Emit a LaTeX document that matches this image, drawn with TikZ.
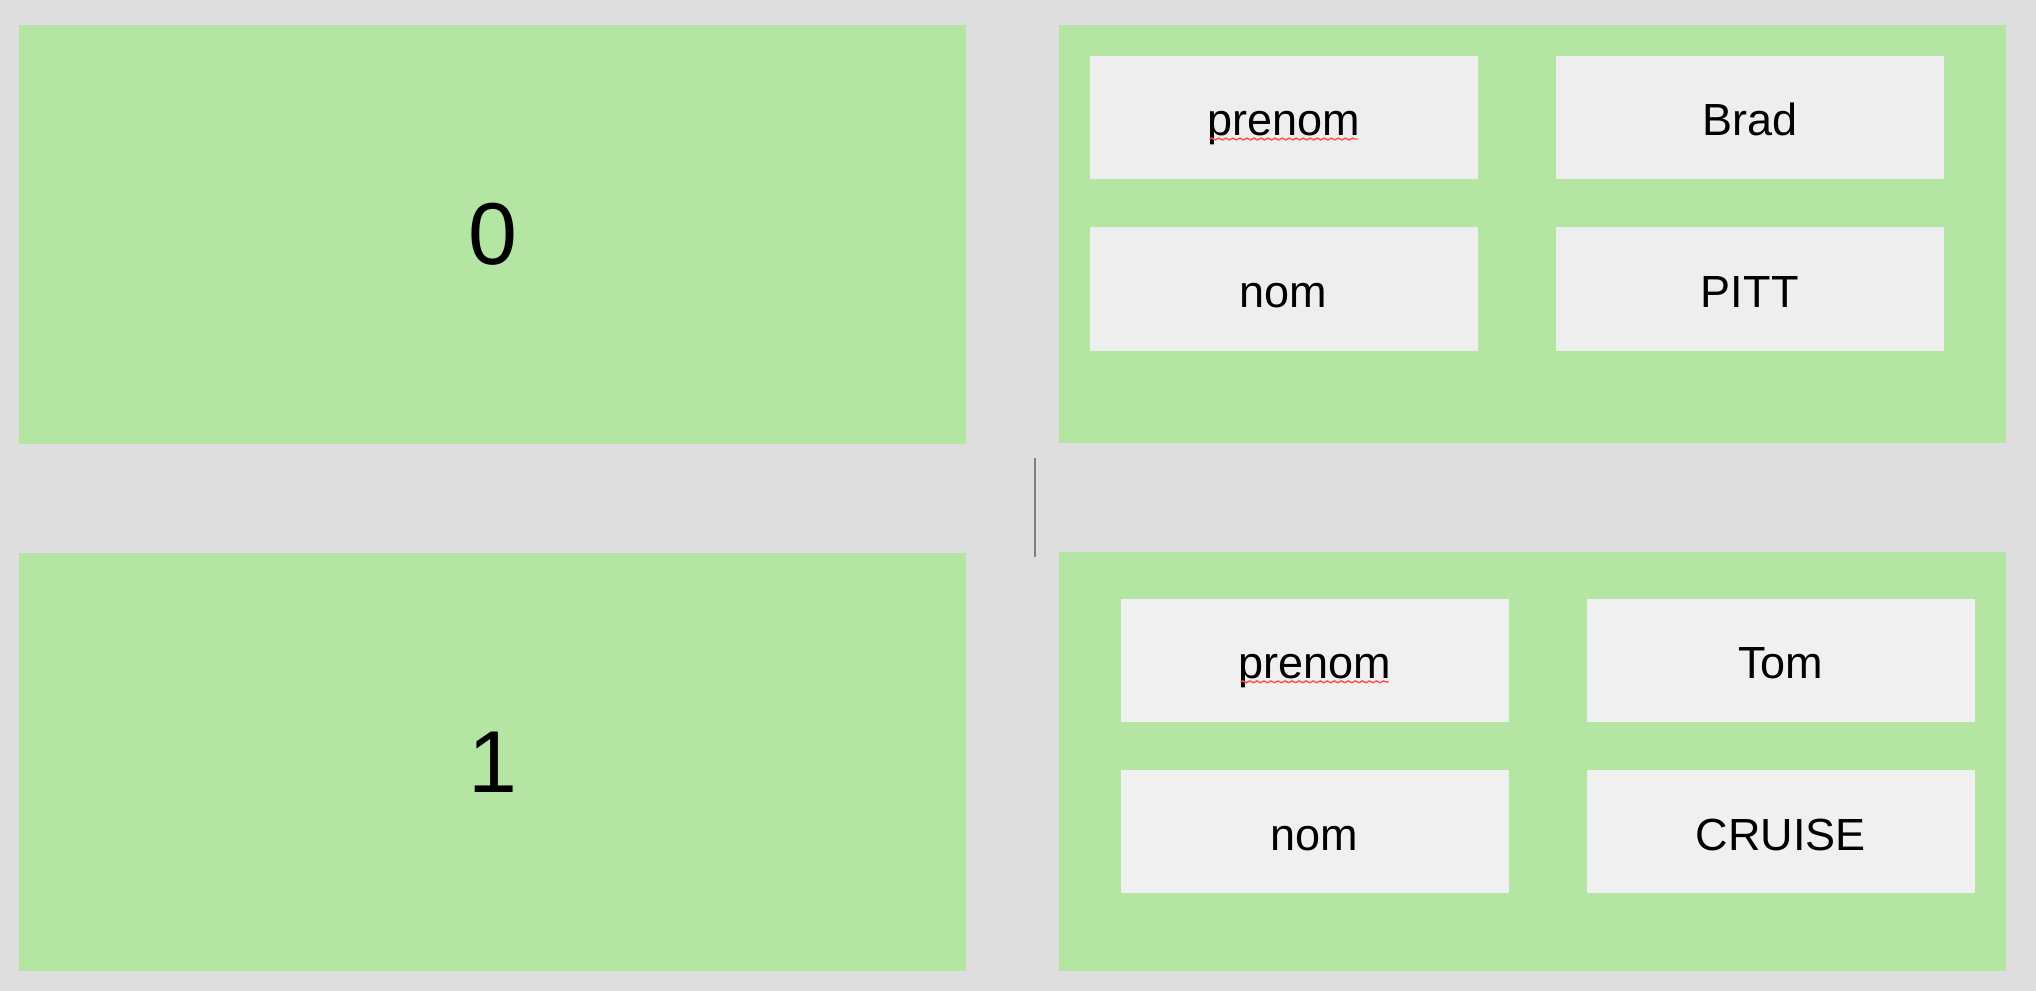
\documentclass[tikz,border=0pt]{standalone}
\usepackage{fontspec}
\setmainfont{Liberation Sans}
\usetikzlibrary{decorations.pathmorphing}
\definecolor{bg}{HTML}{DEDEDE}
\definecolor{rowgreen}{HTML}{B4E5A2}
\definecolor{cellgray}{HTML}{EEEEEE}
\definecolor{cellgrayb}{HTML}{F0F0F0}

\begin{document}
\begin{tikzpicture}[x=0.01cm, y=-0.01cm, every node/.style={font=\fontsize{12.8}{16}\selectfont, inner sep=0pt},
	row/.style={fill=rowgreen, minimum width=9.465cm, minimum height=4.18cm},
	idx/.style={row, font=\fontsize{25}{30}\selectfont},
	cell/.style={fill=cellgray, minimum width=3.88cm, minimum height=1.234cm, text height=10.5pt, text depth=0pt},
	spell/.style={draw=red!70, line width=0.4pt, decorate, decoration={snake, amplitude=0.25pt, segment length=2pt}}]
	\useasboundingbox[fill=bg] (0,0) rectangle (2036,991);
	% keys 0 and 1
	\node[idx] (k0) at (492.8,234.5) {0};
	\node[idx] (k1) at (492.8,762) {1};
	% values
	\node[row] (v0) at (1532.8,233.9) {};
	\node[row] (v1) at (1532.8,761.5) {};
	\node[cell] (p0) at (1283.6,117.5) {prenom};
	\node[cell] (b0) at (1749.7,117.5) {Brad};
	\node[cell] (n0) at (1283.6,288.9) {nom};
	\node[cell] (t0) at (1749.7,288.9) {PITT};
	\node[cell, fill=cellgrayb] (p1) at (1314.7,660.3) {prenom};
	\node[cell, fill=cellgrayb] (b1) at (1780.9,660.3) {Tom};
	\node[cell, fill=cellgrayb] (n1) at (1314.7,831.7) {nom};
	\node[cell, fill=cellgrayb] (t1) at (1780.9,831.7) {CRUISE};
	\draw[spell] ([xshift=-0.74cm, yshift=-0.215cm]p0.center) -- ++(148,0);
	\draw[spell] ([xshift=-0.74cm, yshift=-0.215cm]p1.center) -- ++(148,0);
	% cursor
	\coordinate (c0) at (1035,458);
	\coordinate (c1) at (1035,557);
	\draw[gray, line width=0.02cm] (c0) -- (c1);
\end{tikzpicture}
\end{document}
